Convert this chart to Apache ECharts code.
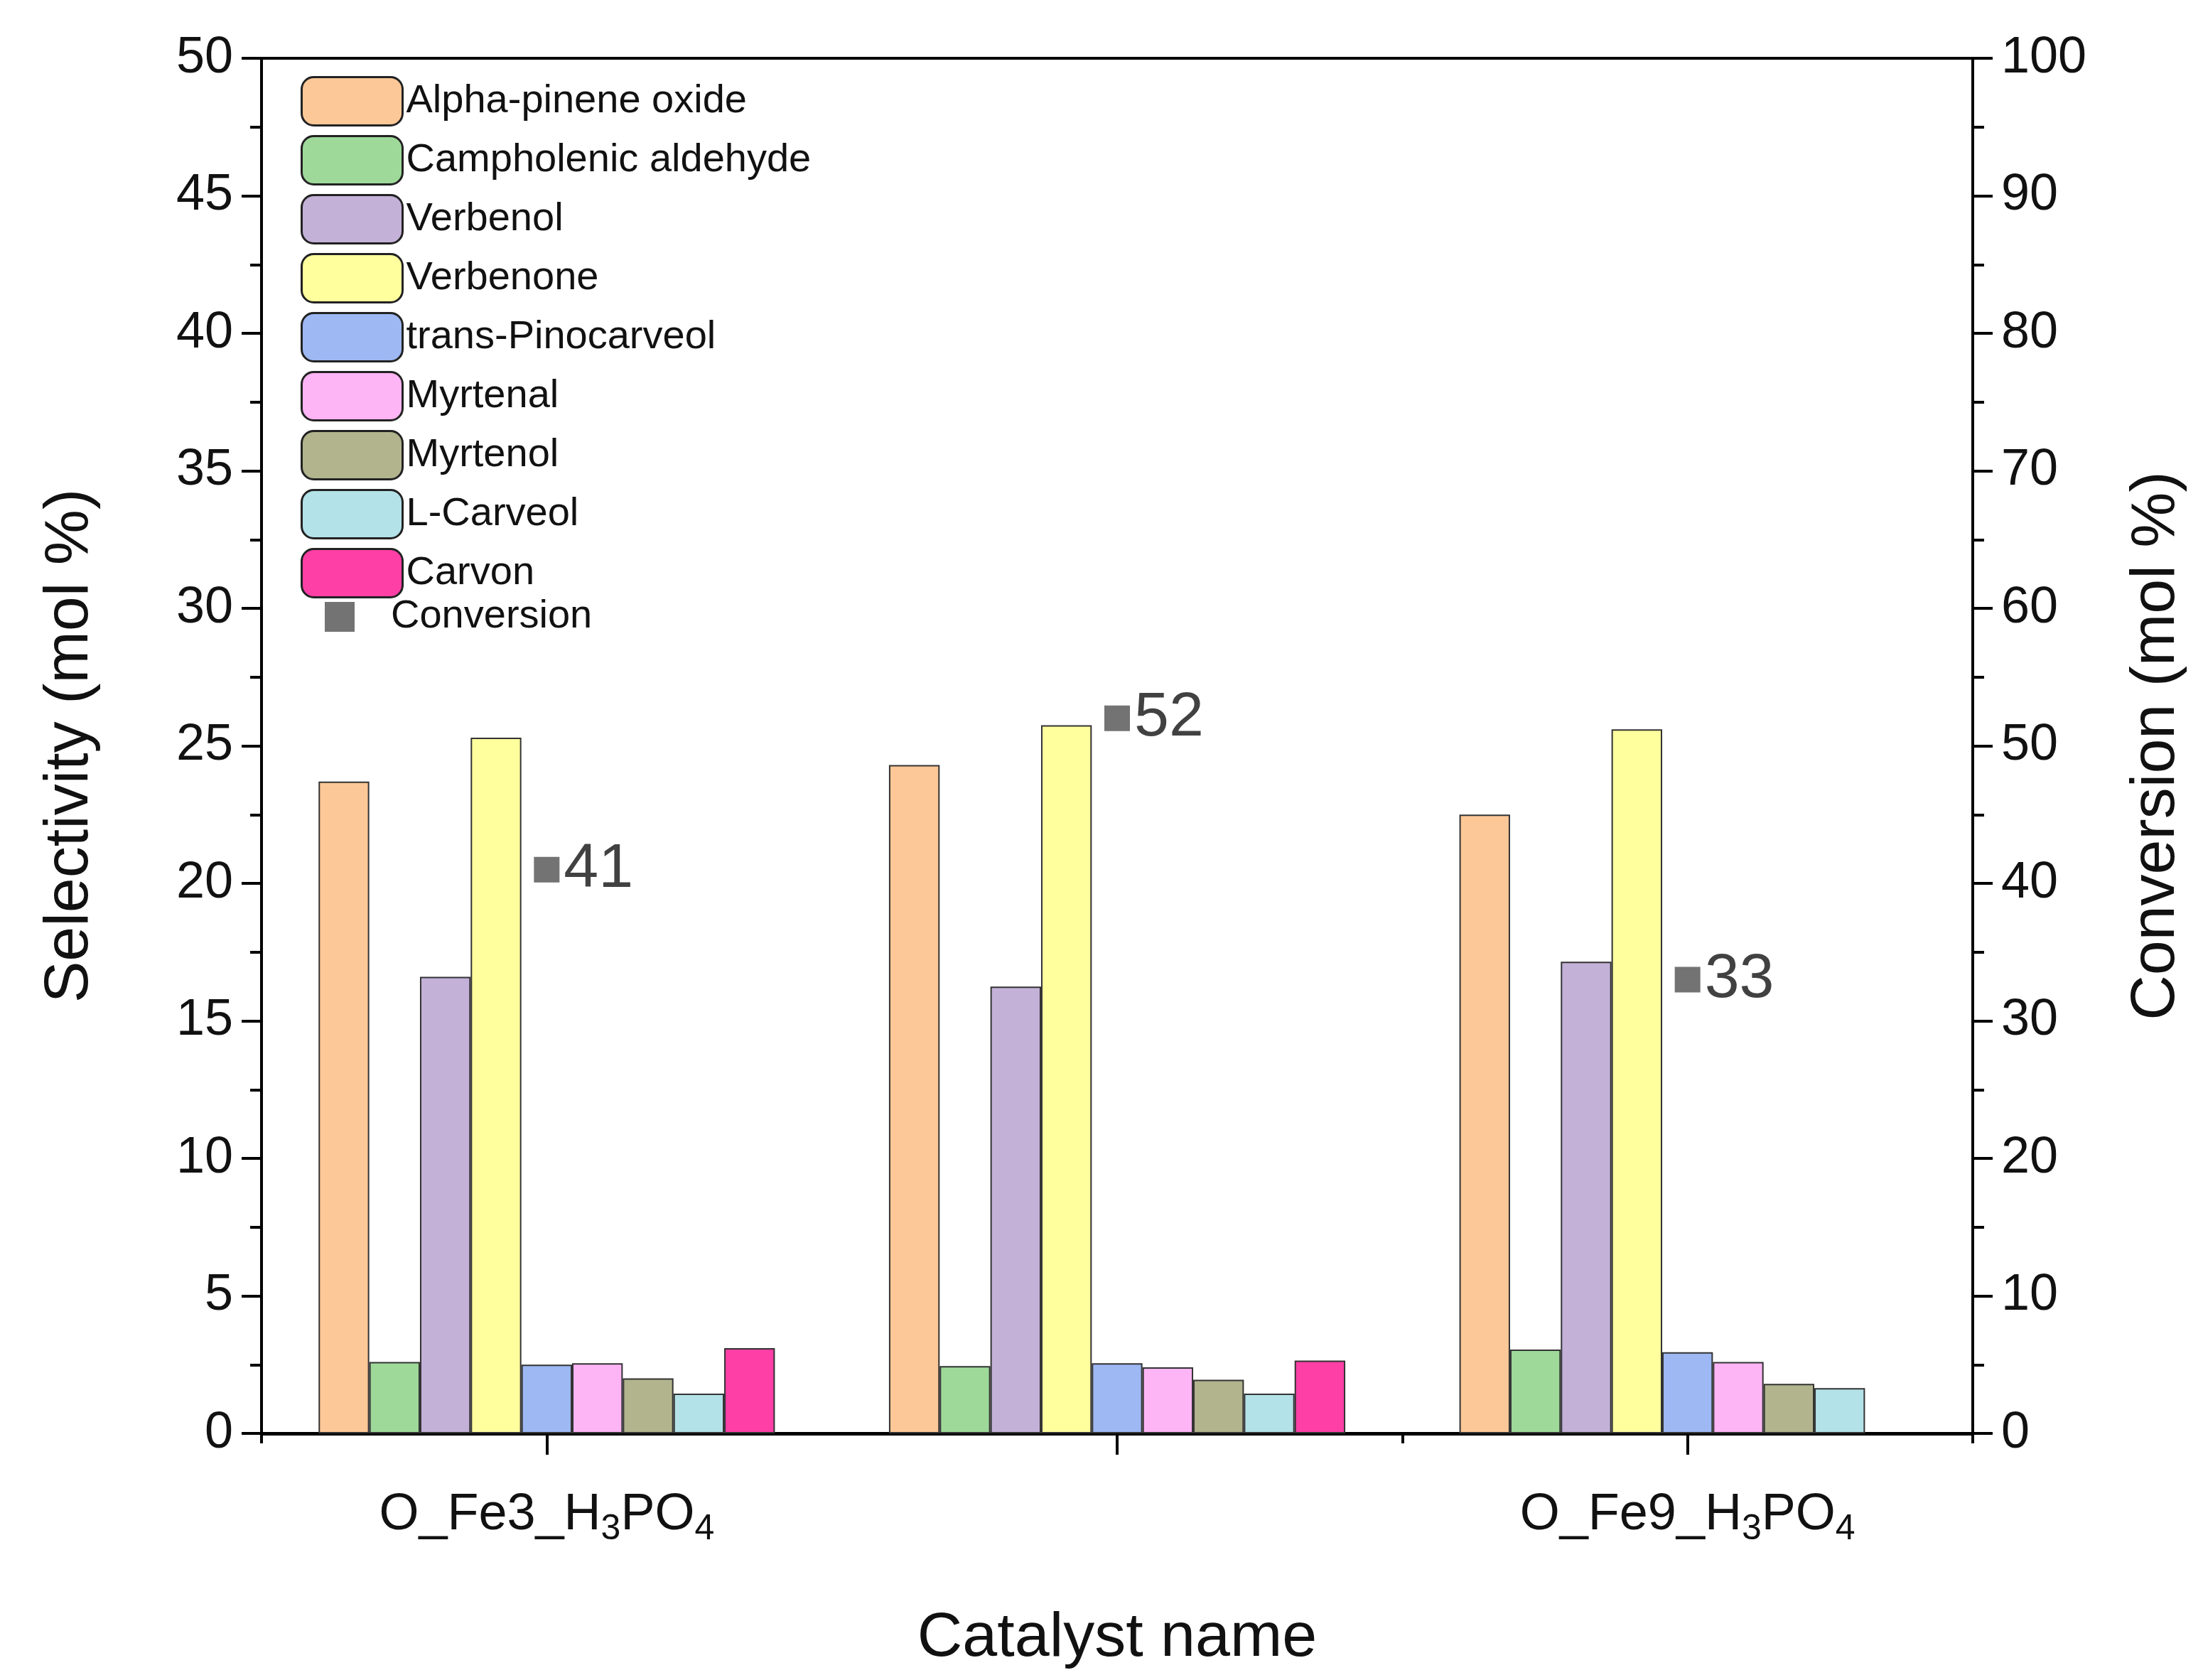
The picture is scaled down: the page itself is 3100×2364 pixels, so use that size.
<!DOCTYPE html><html><head><meta charset="utf-8">
<script src="https://cdn.jsdelivr.net/npm/echarts@6/dist/echarts.min.js"></script>
<style>html,body{margin:0;background:#fff}#c{width:3100px;height:2364px}</style></head><body><div id="c"></div>
<script>
const categories = ['O_Fe3_H{s|3}PO{s|4}', 'O_Fe6_H{s|3}PO{s|4}', 'O_Fe9_H{s|3}PO{s|4}'];
const seriesNames = ['Alpha-pinene oxide','Campholenic aldehyde','Verbenol','Verbenone','trans-Pinocarveol','Myrtenal','Myrtenol','L-Carveol','Carvon'];
const alphaPineneOxide = [23.7, 24.3, 22.5];
const campholenicAldehyde = [2.6, 2.45, 3.05];
const verbenol = [16.6, 16.25, 17.15];
const verbenone = [25.3, 25.75, 25.6];
const transPinocarveol = [2.5, 2.55, 2.95];
const myrtenal = [2.55, 2.4, 2.6];
const myrtenol = [2.0, 1.95, 1.8];
const lCarveol = [1.45, 1.45, 1.65];
const carvon = [3.1, 2.65, null];
const conversion = [41, 52, 33];
const colors = ['#FDC897','#9ED99A','#C3B1D8','#FFFF9E','#9DB8F2','#FDB5F5','#B2B48E','#B3E2E8','#FE3FA6'];
const barData = [alphaPineneOxide, campholenicAldehyde, verbenol, verbenone, transPinocarveol, myrtenal, myrtenol, lCarveol, carvon];
const font = 'Liberation Sans, Arial, sans-serif';
const chart = echarts.init(document.getElementById('c'));
const series = seriesNames.map((n,i)=>({
  name:n, type:'bar', data:barData[i], barGap:'0%', barCategoryGap:'20%',
  itemStyle:{color:colors[i], borderColor:'#333', borderWidth:2}, xAxisIndex:0, yAxisIndex:0
}));
series.push({name:'Conversion', type:'scatter', xAxisIndex:0, yAxisIndex:1, data:conversion,
  symbol:'rect', symbolSize:36, itemStyle:{color:'#505050'}, z:5,
  label:{show:true, position:'right', distance:6, fontSize:88, color:'#111', fontFamily:font}});
const tickStyle = {lineStyle:{color:'#000', width:4}};
chart.setOption({
  animation:false,
  grid:{left:368, right:324, top:82, bottom:347, show:true, borderColor:'#000', borderWidth:4},
  legend:[{data:seriesNames, orient:'vertical', left:418, top:102, itemWidth:142, itemHeight:68, itemGap:12,
    textStyle:{fontSize:56, fontFamily:font, color:'#111'}, itemStyle:{borderColor:'#222', borderWidth:3}},
    {data:['Conversion'], left:452, top:835, itemWidth:42, itemHeight:42, itemGap:10,
    textStyle:{fontSize:56, fontFamily:font, color:'#111', padding:[0,0,0,46]}}],
  xAxis:[{type:'category', data:categories, name:'Catalyst name', nameLocation:'middle', nameGap:245,
    nameTextStyle:{fontSize:88, fontFamily:font, color:'#111'},
    axisLine:{lineStyle:{color:'#000', width:5}},
    axisTick:{show:true, inside:false, length:14, ...tickStyle},
    axisLabel:{margin:70, fontSize:72, fontFamily:font, color:'#111',
      rich:{s:{fontSize:50, fontFamily:font, color:'#111', padding:[40,0,0,0]}}}},
    {type:'category', data:categories, position:'bottom', axisLine:{show:false}, axisLabel:{show:false},
     axisTick:{show:true, alignWithLabel:true, length:30, ...tickStyle}}],
  yAxis:[{type:'value', min:0, max:50, interval:5, name:'Selectivity (mol %)', nameLocation:'middle', nameGap:225,
    nameTextStyle:{fontSize:88, fontFamily:font, color:'#111'},
    axisLine:{show:true, lineStyle:{color:'#000', width:4}},
    axisTick:{show:true, length:28, ...tickStyle},
    minorTick:{show:true, splitNumber:2, length:16, lineStyle:{color:'#000', width:4}},
    splitLine:{show:false}, axisLabel:{fontSize:72, fontFamily:font, color:'#111', margin:40}},
   {type:'value', min:0, max:100, interval:10, name:'Conversion (mol %)', nameLocation:'middle', nameGap:215,
    nameRotate:90, position:'right',
    nameTextStyle:{fontSize:88, fontFamily:font, color:'#111'},
    axisLine:{show:true, lineStyle:{color:'#000', width:4}},
    axisTick:{show:true, length:28, ...tickStyle},
    minorTick:{show:true, splitNumber:2, length:16, lineStyle:{color:'#000', width:4}},
    splitLine:{show:false}, axisLabel:{fontSize:72, fontFamily:font, color:'#111', margin:40}}],
  series: series
});
</script></body></html>
